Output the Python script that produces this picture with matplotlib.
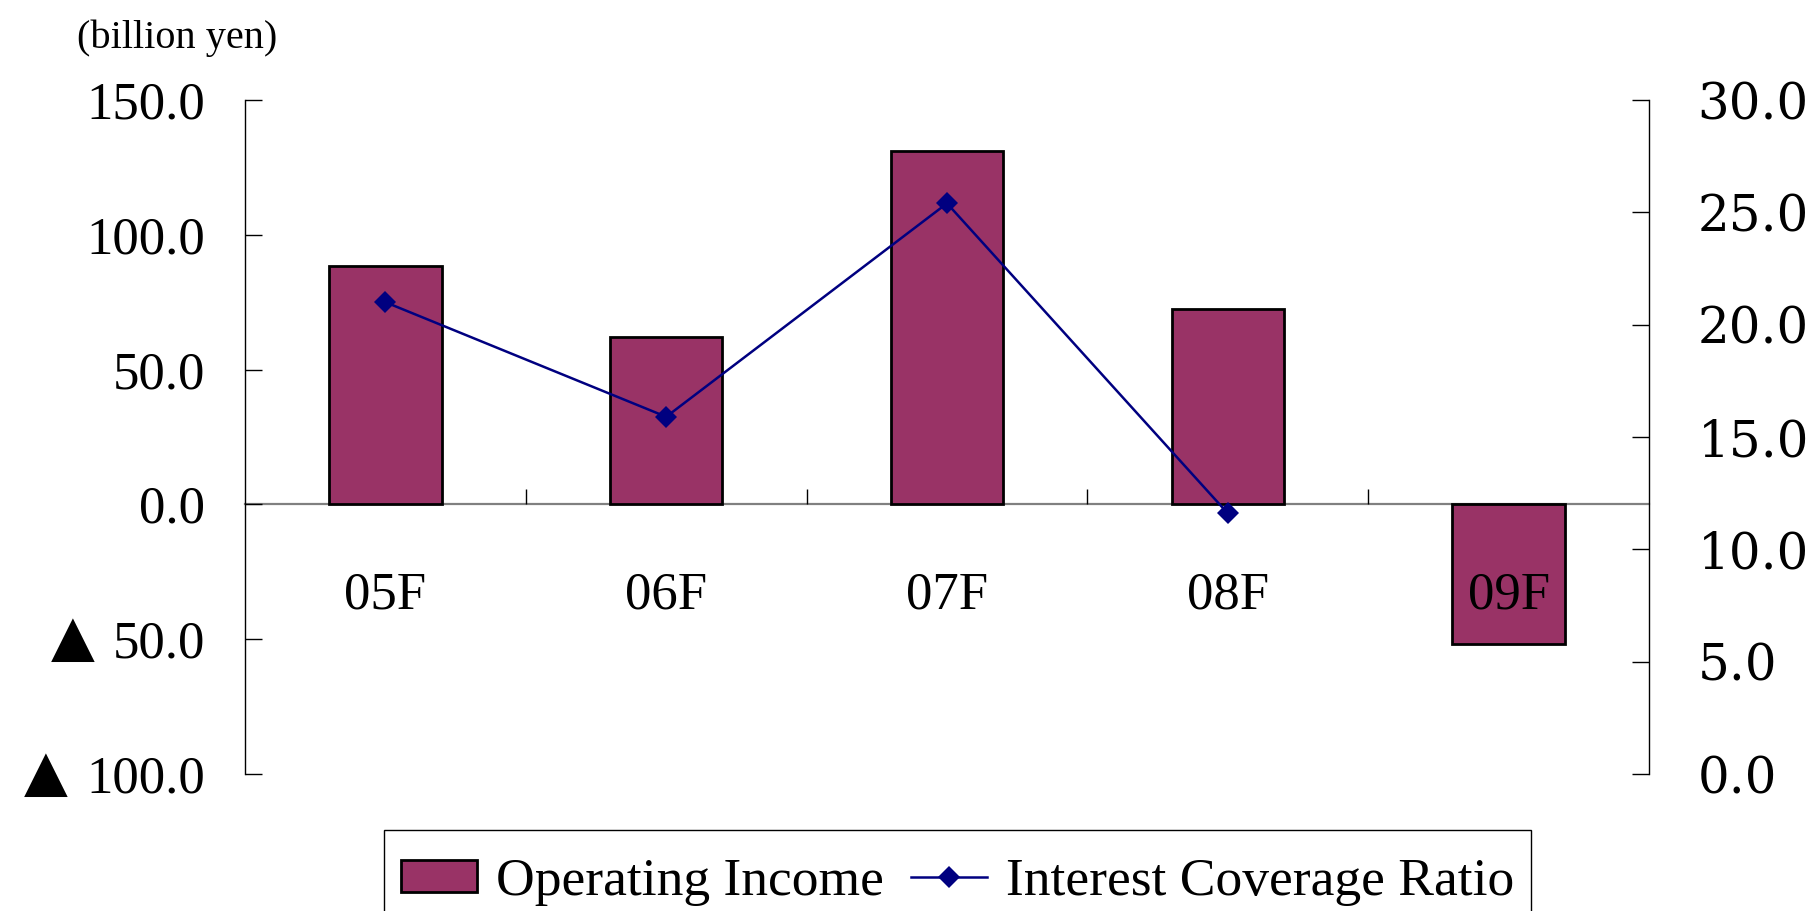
import numpy as np
import matplotlib
matplotlib.use("Agg")
import matplotlib.pyplot as plt
from matplotlib.ticker import FixedLocator, FixedFormatter
from matplotlib.patches import Rectangle
import matplotlib.transforms as mtransforms

categories = ["05F", "06F", "07F", "08F", "09F"]
operating_income = [88.6, 62.0, 131.0, 72.4, -51.7]
icr_values = [21.0, 15.9, 25.4, 11.6]
left_ticks = [-100, -50, 0, 50, 100, 150]
left_labels = ["100.0", "50.0", "0.0", "50.0", "100.0", "150.0"]
right_ticks = [0, 5, 10, 15, 20, 25, 30]
right_labels = ["0.0", "5.0", "10.0", "15.0", "20.0", "25.0", "30.0"]

SERIF = ["Liberation Serif", "DejaVu Sans"]
W, H = 1814, 911
fig = plt.figure(figsize=(W / 100, H / 100), dpi=100)
ax = fig.add_axes([245 / W, 1 - 774 / H, (1649 - 245) / W, (774 - 100) / H])

x = np.arange(len(categories))
ax.bar(x, operating_income, width=0.4, color="#993366", edgecolor="black",
       linewidth=2.0, label="Operating Income", zorder=2)
ax.set_xlim(-0.5, len(categories) - 0.5)
ax.set_ylim(-100, 150)

ax.spines["top"].set_visible(False)
ax.spines["right"].set_visible(False)
ax.spines["left"].set_linewidth(1.0)
ax.spines["bottom"].set_position(("data", 0))
ax.spines["bottom"].set_color("#808080")
ax.spines["bottom"].set_linewidth(1.6)
ax.spines["bottom"].set_zorder(1.5)
ax.xaxis.set_zorder(3)

ax.yaxis.set_major_locator(FixedLocator(left_ticks))
ax.yaxis.set_major_formatter(FixedFormatter(left_labels))
ax.tick_params(axis="y", direction="in", length=12, width=1.0, pad=29, labelsize=38)
for lab in ax.get_yticklabels():
    lab.set_fontfamily(SERIF)

ax.xaxis.set_major_locator(FixedLocator(list(np.arange(0.5, len(categories) - 1, 1.0))))
ax.xaxis.set_major_formatter(FixedFormatter([""] * (len(categories) - 1)))
ax.xaxis.set_minor_locator(FixedLocator(list(x)))
ax.xaxis.set_minor_formatter(FixedFormatter(categories))
ax.tick_params(axis="x", which="major", direction="in", length=11, width=1.0, color="black")
ax.tick_params(axis="x", which="minor", length=0, pad=48, labelsize=38)
for lab in ax.get_xticklabels(minor=True):
    lab.set_fontfamily(SERIF)

ax2 = ax.twinx()
ax2.set_ylim(0, 30)
ax2.plot(np.arange(len(icr_values)), icr_values, color="#000080", marker="D",
         markersize=11, markeredgewidth=0, linewidth=1.8,
         label="Interest Coverage Ratio")
for s in ["top", "bottom", "left"]:
    ax2.spines[s].set_visible(False)
ax2.spines["right"].set_linewidth(1.0)
ax2.yaxis.set_major_locator(FixedLocator(right_ticks))
ax2.yaxis.set_major_formatter(FixedFormatter(right_labels))
ax2.tick_params(axis="y", direction="in", length=12, width=1.0, pad=35, labelsize=36)
for lab in ax2.get_yticklabels():
    lab.set_fontfamily("DejaVu Serif")

fig.text(77 / W, 1 - 38 / H, "(billion yen)", fontsize=29, family=SERIF,
         ha="left", va="center")

# triangles marking negative values, placed left of the tick labels
fig.canvas.draw()
renderer = fig.canvas.get_renderer()
for val, lab in zip(left_ticks, ax.yaxis.get_majorticklabels()):
    if val < 0:
        bb = lab.get_window_extent(renderer)
        trans = mtransforms.blended_transform_factory(
            mtransforms.IdentityTransform(), ax.transData)
        ax.text(bb.x0 - 18, val, "\u25b2", transform=trans, ha="right",
                va="center", fontsize=41, family="DejaVu Sans", clip_on=False)

# legend
h1, l1 = ax.get_legend_handles_labels()
h2, l2 = ax2.get_legend_handles_labels()
frame = Rectangle((384 / W, -0.1), (1531 - 384) / W, (1 - 830 / H) + 0.1,
                  transform=fig.transFigure, facecolor="white",
                  edgecolor="black", linewidth=1.0)
fig.patches.append(frame)
leg = fig.legend(h1 + h2, l1 + l2, loc="center left",
                 bbox_to_anchor=(401 / W, 1 - 882 / H), ncol=2,
                 prop={"family": SERIF, "size": 38.5}, frameon=False,
                 borderaxespad=0, borderpad=0,
                 handlelength=1.42, handleheight=0.55, handletextpad=0.36,
                 columnspacing=0.5)

fig.savefig("out.png", dpi=100)
